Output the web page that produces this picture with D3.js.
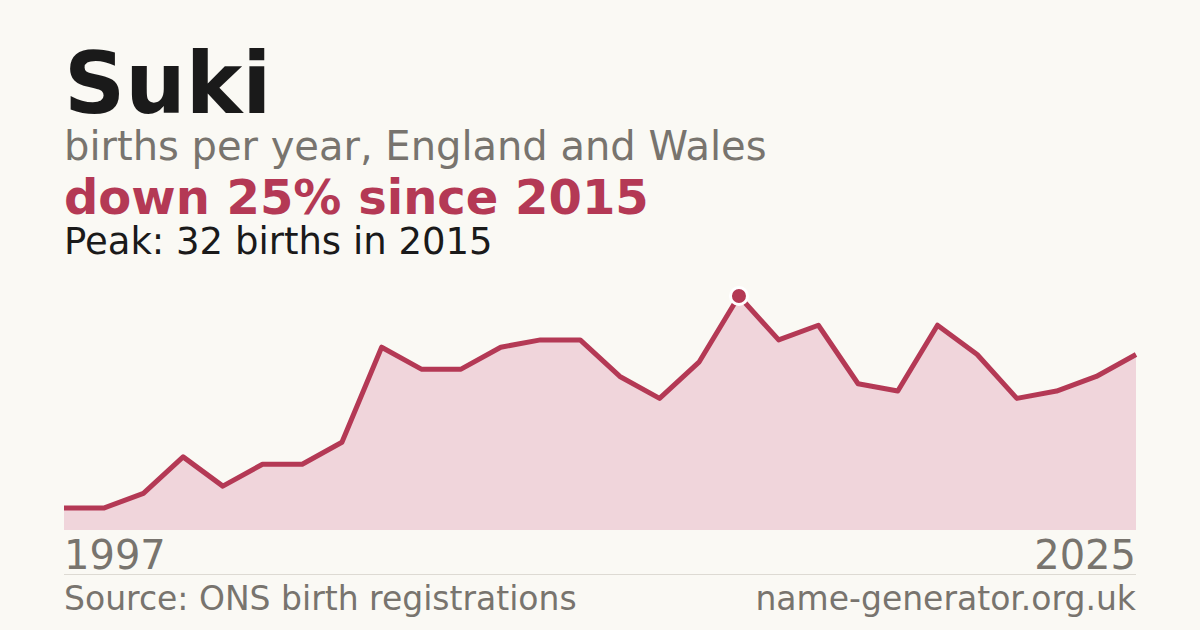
<!DOCTYPE html>
<html>
<head>
<meta charset="utf-8">
<script src="https://cdn.jsdelivr.net/npm/d3@7"></script>
<style>
  body { margin: 0; background: #faf9f4; }
  svg { display: block; font-family: "DejaVu Sans", sans-serif; }
</style>
</head>
<body>
<svg id="chart" width="1200" height="630"></svg>
<script>
// one year (1998) is absent from the series, points are spaced by index
const years = [1997, 1999, 2000, 2001, 2002, 2003, 2004, 2005, 2006, 2007, 2008, 2009, 2010, 2011,
               2012, 2013, 2014, 2015, 2016, 2017, 2018, 2019, 2020, 2021, 2022, 2023, 2024, 2025];
const births = [3, 3, 5, 10, 6, 9, 9, 12, 25, 22, 22, 25, 26, 26,
                21, 18, 23, 32, 26, 28, 20, 19, 28, 24, 18, 19, 21, 24];
const axisLabels = ["1997", "2025"];

const W = 1200, H = 630;
const margin = {left: 64, right: 64};
const plotTop = 296, plotBottom = 530;

const svg = d3.select("#chart");

svg.append("rect")
    .attr("width", W).attr("height", H)
    .attr("fill", "#faf9f4");

const data = years.map((y, i) => ({year: y, value: births[i]}));
const peak = data.reduce((a, b) => b.value > a.value ? b : a);
const last = data[data.length - 1];
const change = Math.round((last.value - peak.value) / peak.value * 100);

// headings
svg.append("text")
    .attr("x", 64).attr("y", 113)
    .attr("font-size", 85).attr("font-weight", "bold")
    .attr("fill", "#1a1a1a")
    .text("Suki");

svg.append("text")
    .attr("x", 64).attr("y", 160)
    .attr("font-size", 40)
    .attr("fill", "#78746e")
    .text("births per year, England and Wales");

svg.append("text")
    .attr("x", 64).attr("y", 214)
    .attr("font-size", 48).attr("font-weight", "bold")
    .attr("fill", "#b43955")
    .text(`${change < 0 ? "down" : "up"} ${Math.abs(change)}% since ${peak.year}`);

svg.append("text")
    .attr("x", 64).attr("y", 254)
    .attr("font-size", 37)
    .attr("fill", "#1a1a1a")
    .text(`Peak: ${peak.value} births in ${peak.year}`);

// scales
const x = d3.scalePoint()
    .domain(years)
    .range([margin.left, W - margin.right]);

const y = d3.scaleLinear()
    .domain([0, d3.max(births)])
    .range([plotBottom, plotTop]);

const area = d3.area()
    .x(d => x(d.year))
    .y0(y(0))
    .y1(d => y(d.value));

const line = d3.line()
    .x(d => x(d.year))
    .y(d => y(d.value));

svg.append("path")
    .datum(data)
    .attr("d", area)
    .attr("fill", "#f0d5db");

svg.append("path")
    .datum(data)
    .attr("d", line)
    .attr("fill", "none")
    .attr("stroke", "#b43955")
    .attr("stroke-width", 5)
    .attr("stroke-linejoin", "round");

// peak marker
svg.append("circle")
    .attr("cx", x(peak.year))
    .attr("cy", y(peak.value))
    .attr("r", 8.5)
    .attr("fill", "#b43955")
    .attr("stroke", "#ffffff")
    .attr("stroke-width", 3);

// end labels
svg.append("text")
    .attr("x", x(years[0])).attr("y", 569)
    .attr("font-size", 40)
    .attr("fill", "#78746e")
    .text(axisLabels[0]);

svg.append("text")
    .attr("x", x(years[years.length - 1])).attr("y", 569)
    .attr("text-anchor", "end")
    .attr("font-size", 40)
    .attr("fill", "#78746e")
    .text(axisLabels[1]);

svg.append("line")
    .attr("x1", margin.left).attr("x2", W - margin.right)
    .attr("y1", 574.5).attr("y2", 574.5)
    .attr("stroke", "#dddad3")
    .attr("stroke-width", 1);

// footer
svg.append("text")
    .attr("x", 64).attr("y", 610)
    .attr("font-size", 33)
    .attr("fill", "#78746e")
    .text("Source: ONS birth registrations");

svg.append("text")
    .attr("x", W - margin.right).attr("y", 610)
    .attr("text-anchor", "end")
    .attr("font-size", 33)
    .attr("fill", "#78746e")
    .text("name-generator.org.uk");
</script>
</body>
</html>
